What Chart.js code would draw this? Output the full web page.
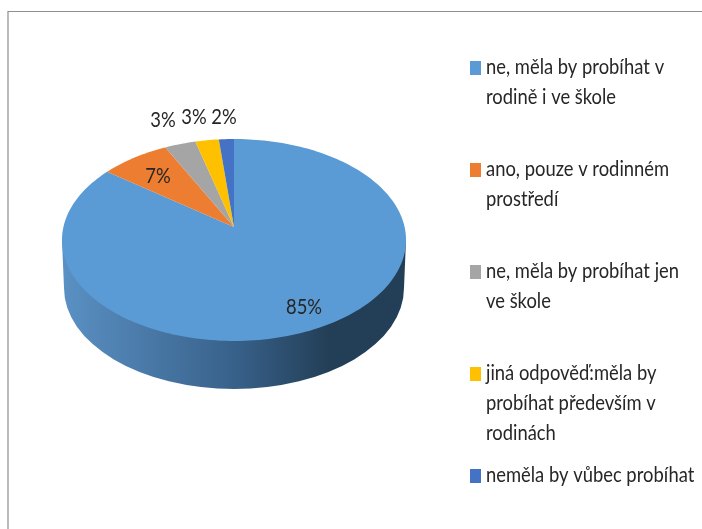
<!DOCTYPE html>
<html lang="cs">
<head>
<meta charset="UTF-8">
<title>Graf</title>
<script src="https://cdn.jsdelivr.net/npm/chart.js"></script>
<style>
  html, body { margin: 0; padding: 0; background: #fff; }
  #wrap { position: relative; width: 702px; height: 529px; }
</style>
</head>
<body>
<div id="wrap"><canvas id="graf" width="702" height="529"></canvas></div>
<script>
var categories = [
  ["ne, měla by probíhat v", "rodině i ve škole"],
  ["ano, pouze v rodinném", "prostředí"],
  ["ne, měla by probíhat jen", "ve škole"],
  ["jiná odpověď:měla by", "probíhat především v", "rodinách"],
  ["neměla by vůbec probíhat"]
];
var values = [85.2, 7.4, 3.3, 2.5, 1.6];
var colors = ["#5b9bd5", "#ed7d31", "#a5a5a5", "#ffc000", "#4472c4"];

// where the face of the pie sits on the canvas
var apexX = 234, apexY = 227;
var faceA = 170.6, faceB = 99.3, tilt = 0.1287;
var labelFont = '21px Lato, "Open Sans", sans-serif';
var textSqueeze = 0.875;

// perspective view of a point on the unit circle (v points away from the viewer)
function project(u, v) {
  var w = 1 + tilt * v;
  return [apexX + faceA * u / w, apexY - faceB * v / w];
}

// the original font is narrower than anything installed
function squeezedText(ctx, text, x, y) {
  ctx.save();
  ctx.translate(x, y);
  ctx.scale(textSqueeze, 1);
  ctx.fillText(text, 0, 0);
  ctx.restore();
}

var decorPlugin = {
  id: "decor",
  beforeDatasetDraw: function (chart) {
    var ctx = chart.ctx;
    ctx.save();
    ctx.fillStyle = "#fff";
    ctx.fillRect(0, 0, 702, 529);

    // frame
    ctx.strokeStyle = "#8f8f8f";
    ctx.lineWidth = 1.2;
    ctx.beginPath();
    ctx.moveTo(8, 529);
    ctx.lineTo(8, 11.5);
    ctx.lineTo(702, 11.5);
    ctx.stroke();

    // side wall
    var grad = ctx.createLinearGradient(64, 0, 404, 0);
    grad.addColorStop(0, "#5a90c3");
    grad.addColorStop(0.5, "#38618a");
    grad.addColorStop(0.78, "#233f57");
    grad.addColorStop(1, "#233f57");
    ctx.fillStyle = grad;
    ctx.beginPath();
    ctx.moveTo(62, 240);
    ctx.ellipse(234, 288, 170, 101, 0, Math.PI, 0, true);
    ctx.lineTo(406, 240);
    ctx.closePath();
    ctx.fill();
    ctx.restore();
  },
  afterDatasetDraw: function (chart) {
    var ctx = chart.ctx;
    ctx.save();
    ctx.font = labelFont;
    ctx.fillStyle = "#262626";
    ctx.textBaseline = "middle";
    ctx.textAlign = "center";
    var offsets = [[70, 80], [-76, -51], [-71, -107], [-40, -110], [-10, -110]];
    values.forEach(function (v, i) {
      squeezedText(ctx, Math.round(v) + "%", apexX + offsets[i][0], apexY + offsets[i][1]);
    });

    // legend
    ctx.textAlign = "left";
    categories.forEach(function (lines, i) {
      var y = 68 + i * 102;
      ctx.fillStyle = colors[i];
      ctx.fillRect(470, y - 7, 11, 14);
      ctx.fillStyle = "#262626";
      lines.forEach(function (line, j) {
        squeezedText(ctx, line, 486, y - 0.5 + j * 30);
      });
    });
    ctx.restore();
  }
};

// slices keep the angles Chart.js worked out, only the outline goes through project()
Chart.ArcElement.prototype.draw = function (ctx) {
  var a0 = this.startAngle, a1 = this.endAngle;
  var steps = Math.max(4, Math.ceil((a1 - a0) * 40));
  ctx.save();
  ctx.fillStyle = this.options.backgroundColor;
  ctx.beginPath();
  ctx.moveTo(apexX, apexY);
  for (var i = 0; i <= steps; i++) {
    var a = a0 + (a1 - a0) * i / steps;
    var p = project(Math.cos(a), -Math.sin(a));
    ctx.lineTo(p[0], p[1]);
  }
  ctx.closePath();
  ctx.fill();
  ctx.restore();
};

new Chart(document.getElementById("graf"), {
  type: "pie",
  data: {
    labels: categories.map(function (c) { return c.join(" "); }),
    datasets: [{ data: values, backgroundColor: colors, borderWidth: 0 }]
  },
  options: {
    responsive: false,
    animation: false,
    plugins: { legend: { display: false }, tooltip: { enabled: false } }
  },
  plugins: [decorPlugin]
});
</script>
</body>
</html>
